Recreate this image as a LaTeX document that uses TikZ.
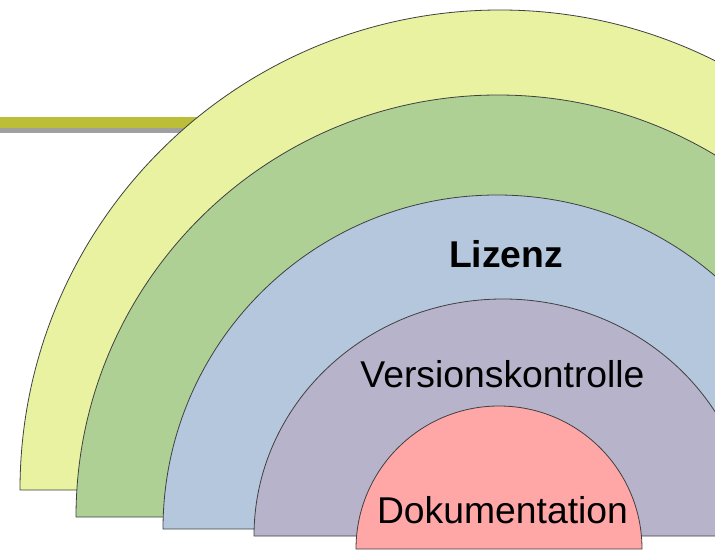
\documentclass[tikz,border=0pt]{standalone}
\usepackage{fontspec}
\setmainfont{Liberation Sans}
\definecolor{cyellow}{HTML}{E8F2A1}
\definecolor{cgreen}{HTML}{AFD095}
\definecolor{cblue}{HTML}{B4C7DC}
\definecolor{cpurple}{HTML}{B7B3CA}
\definecolor{cpink}{HTML}{FFA6A6}
\definecolor{colive}{HTML}{BBBE36}
\definecolor{cshadow}{HTML}{A0A0A0}
\definecolor{cline}{HTML}{404040}
\begin{document}
\begin{tikzpicture}[x=1pt,y=1pt,
  halfdisk/.style={draw=cline,line width=0.8pt,line join=round},
  lbl/.style={anchor=base,inner sep=0pt,font=\fontsize{37.3}{44}\selectfont}]
\useasboundingbox (0,0) rectangle (715,550);
\fill[cshadow] (0,417) rectangle (200,422);
\fill[colive] (0,422) rectangle (200,433);
\draw[halfdisk,fill=cyellow] (20,60) arc[start angle=180,end angle=0,radius=480] -- cycle;
\draw[halfdisk,fill=cgreen] (76,33) arc[start angle=180,end angle=0,radius=422] -- cycle;
\draw[halfdisk,fill=cblue] (163,21) arc[start angle=180,end angle=0,radius=334] -- cycle;
\draw[halfdisk,fill=cpurple] (254,14) arc[start angle=180,end angle=0,x radius=249,y radius=237] -- cycle;
\draw[halfdisk,fill=cpink] (356,1) arc[start angle=180,end angle=0,radius=143] -- cycle;
\node[lbl,font=\fontsize{37.3}{44}\selectfont\bfseries] (lizenz) at (506,283) {Lizenz};
\node[lbl] (version) at (502.5,163) {Versionskontrolle};
\node[lbl] (doku) at (502.5,27) {Dokumentation};
\end{tikzpicture}
\end{document}
